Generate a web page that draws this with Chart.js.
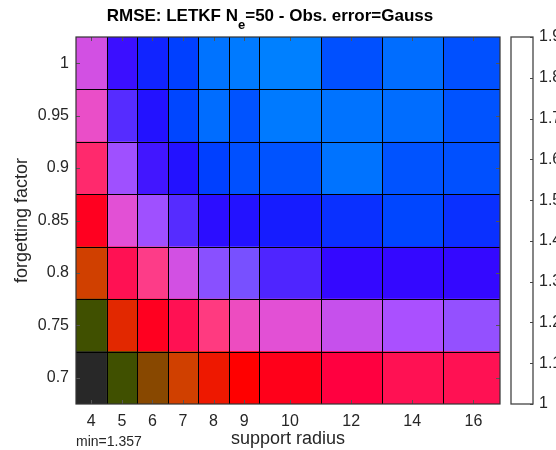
<!DOCTYPE html>
<html><head><meta charset="utf-8">
<script src="https://cdn.jsdelivr.net/npm/chart.js@4/dist/chart.umd.min.js"></script>
<style>html,body{margin:0;padding:0;background:#fff;overflow:hidden}#wrap{width:556px;height:450px}</style>
</head><body><div id="wrap"><canvas id="c" width="556" height="450"></canvas></div>
<script>
// ---- data ----
const radius = [4, 5, 6, 7, 8, 9, 10, 12, 14, 16];
const forgetting = ['1', '0.95', '0.9', '0.85', '0.8', '0.75', '0.7'];
// RMSE values, rows top (1) to bottom (0.7), columns follow radius
const rmse1    = [1.693, 1.793, 1.849, 1.877, 1.941, 1.949, 1.957, 1.897, 1.933, 1.897];
const rmse095  = [1.673, 1.777, 1.821, 1.885, 1.933, 1.901, 1.949, 1.941, 1.933, 1.901];
const rmse09   = [1.625, 1.729, 1.789, 1.821, 1.877, 1.897, 1.901, 1.941, 1.901, 1.897];
const rmse085  = [1.577, 1.681, 1.729, 1.777, 1.809, 1.821, 1.841, 1.861, 1.885, 1.861];
const rmse08   = [1.477, 1.609, 1.641, 1.693, 1.745, 1.757, 1.781, 1.797, 1.797, 1.797];
const rmse075  = [1.397, 1.501, 1.577, 1.609, 1.637, 1.669, 1.681, 1.701, 1.721, 1.737];
const rmse07   = [1.357, 1.397, 1.437, 1.477, 1.517, 1.557, 1.573, 1.597, 1.609, 1.609];
const rmseRows = [rmse1, rmse095, rmse09, rmse085, rmse08, rmse075, rmse07];
const colorbarTicks = [1, 1.1, 1.2, 1.3, 1.4, 1.5, 1.6, 1.7, 1.8, 1.9];
const minText = 'min=1.357';
const cmapColors = ['#282828','#405000','#884800','#d04000','#ee1800','#ff0000','#ff0040','#ff3a80',
                    '#e850d0','#b050ff','#7850ff','#3408ff','#1818ff','#0040ff','#0060ff','#0080ff'];
const cmapMin = 1.357, cmapMax = 1.957;

// ---- helpers ----
function hex(c){return [parseInt(c.slice(1,3),16),parseInt(c.slice(3,5),16),parseInt(c.slice(5,7),16)];}
const cmapRGB = cmapColors.map(hex);
function colorFor(v){
  let t = (v - cmapMin) / (cmapMax - cmapMin) * (cmapRGB.length - 1);
  t = Math.max(0, Math.min(cmapRGB.length - 1, t));
  const i = Math.min(Math.floor(t), cmapRGB.length - 2), f = t - i;
  const a = cmapRGB[i], b = cmapRGB[i+1];
  return 'rgb(' + a.map((x,k)=>Math.round(x + (b[k]-x)*f)).join(',') + ')';
}
// cell edges along radius axis
const widths = radius.map((r,i)=> i < radius.length-1 ? radius[i+1]-r : r - radius[i-1]);
const edges = [radius[0] - 0.5];
widths.forEach(w => edges.push(edges[edges.length-1] + w));
const centers = radius.map((r,i)=> (edges[i] + edges[i+1]) / 2);

const datasets = radius.map((r, ci) => ({
  data: forgetting.map((f, ri) => ({y: f, x: [edges[ci], edges[ci+1]]})),
  backgroundColor: ctx => colorFor(rmseRows[ctx.dataIndex][ci]),
  borderWidth: 0,
  borderSkipped: false,
  grouped: false,
  categoryPercentage: 1,
  barPercentage: 1
}));

const FONT = "'Liberation Sans', Arial, sans-serif";
const TXT = '#262626';

const decor = {
  id: 'decor',
  afterDatasetsDraw(chart) {
    const {ctx, chartArea: a, scales} = chart;
    ctx.save();
    // cell boundaries
    ctx.strokeStyle = '#000'; ctx.lineWidth = 1;
    ctx.beginPath();
    edges.slice(1, -1).forEach(e => {
      const px = Math.round(scales.x.getPixelForValue(e)) + 0.5;
      ctx.moveTo(px, a.top); ctx.lineTo(px, a.bottom);
    });
    for (let i = 0; i < forgetting.length - 1; i++) {
      const py = Math.round((scales.y.getPixelForTick(i) + scales.y.getPixelForTick(i+1)) / 2) + 0.5;
      ctx.moveTo(a.left, py); ctx.lineTo(a.right, py);
    }
    ctx.stroke();
    // inward ticks
    ctx.strokeStyle = '#555'; ctx.lineWidth = 1;
    ctx.beginPath();
    scales.x.ticks.forEach((t, i) => {
      const px = Math.round(scales.x.getPixelForTick(i)) + 0.5;
      ctx.moveTo(px, a.bottom); ctx.lineTo(px, a.bottom - 4);
      ctx.moveTo(px, a.top); ctx.lineTo(px, a.top + 4);
    });
    scales.y.ticks.forEach((t, i) => {
      const py = Math.round(scales.y.getPixelForTick(i)) + 0.5;
      ctx.moveTo(a.left, py); ctx.lineTo(a.left + 4, py);
      ctx.moveTo(a.right, py); ctx.lineTo(a.right - 4, py);
    });
    ctx.stroke();
    // axes box
    ctx.strokeStyle = '#333'; ctx.lineWidth = 1.2;
    ctx.strokeRect(a.left, a.top, a.right - a.left, a.bottom - a.top);
    // colorbar box
    const s2 = scales.y2;
    const top = s2.getPixelForValue(colorbarTicks[colorbarTicks.length-1]);
    const bot = s2.getPixelForValue(colorbarTicks[0]);
    const bx0 = a.right + 11, bx1 = a.right + 33;
    ctx.fillStyle = '#fff';
    ctx.fillRect(bx0, top, bx1 - bx0, bot - top);
    ctx.strokeStyle = '#444'; ctx.lineWidth = 1.3;
    ctx.strokeRect(bx0, top, bx1 - bx0, bot - top);
    ctx.lineWidth = 1;
    ctx.beginPath();
    colorbarTicks.forEach(v => {
      const py = Math.round(s2.getPixelForValue(v)) + 0.5;
      ctx.moveTo(bx1, py); ctx.lineTo(bx1 - 3, py);
    });
    ctx.stroke();
    // title with subscript
    const p1 = 'RMSE: LETKF N', sub = 'e', p2 = '=50 - Obs. error=Gauss';
    const fMain = "bold 17px " + FONT, fSub = "bold 13px " + FONT;
    ctx.font = fMain; const w1 = ctx.measureText(p1).width, w3 = ctx.measureText(p2).width;
    ctx.font = fSub; const w2 = ctx.measureText(sub).width;
    let x = 270 - (w1 + w2 + w3) / 2;
    ctx.fillStyle = '#000'; ctx.textBaseline = 'alphabetic'; ctx.textAlign = 'left';
    ctx.font = fMain; ctx.fillText(p1, x, 21); x += w1;
    ctx.font = fSub; ctx.fillText(sub, x, 29); x += w2;
    ctx.font = fMain; ctx.fillText(p2, x, 21);
    // min text
    ctx.font = "14px " + FONT; ctx.fillStyle = TXT; ctx.textBaseline = 'middle';
    ctx.fillText(minText, a.left, 442);
    ctx.restore();
  }
};

new Chart(document.getElementById('c'), {
  type: 'bar',
  data: {labels: forgetting, datasets},
  plugins: [decor],
  options: {
    indexAxis: 'y',
    responsive: false,
    devicePixelRatio: 1,
    animation: false,
    layout: {padding: {top: 37, left: 0, right: 0, bottom: 0}},
    plugins: {legend: {display: false}, tooltip: {enabled: false}, title: {display: false}},
    scales: {
      x: {
        type: 'linear', position: 'bottom', min: edges[0], max: 17.37,
        afterBuildTicks: s => { s.ticks = centers.map(v => ({value: v})); },
        afterFit: s => { s.height = 46; },
        grid: {display: false, drawTicks: false},
        border: {display: false},
        ticks: {callback: (v, i) => String(radius[i]), font: {family: FONT, size: 16}, color: TXT, padding: 8, maxRotation: 0, autoSkip: false},
        title: {display: true, text: 'support radius', font: {family: FONT, size: 18, lineHeight: 1.2}, color: TXT, padding: {top: 0, bottom: 0}}
      },
      y: {
        type: 'category', position: 'left', offset: true,
        afterFit: s => { s.width = 76; },
        grid: {display: false, drawTicks: false},
        border: {display: false},
        ticks: {font: {family: FONT, size: 16}, color: TXT, padding: 7},
        title: {display: true, text: 'forgetting factor', font: {family: FONT, size: 18, lineHeight: 1.2}, color: TXT, padding: {top: 11, bottom: 0}}
      },
      y2: {
        type: 'linear', position: 'right', offset: false,
        min: colorbarTicks[0], max: colorbarTicks[colorbarTicks.length-1],
        afterBuildTicks: s => { s.ticks = colorbarTicks.map(v => ({value: v})); },
        afterFit: s => { s.width = 56; },
        grid: {display: true, offset: false, drawOnChartArea: false, drawTicks: true, tickLength: 36, color: 'rgba(0,0,0,0)'},
        border: {display: false},
        ticks: {callback: v => String(+v.toFixed(1)), font: {family: FONT, size: 16}, color: TXT, padding: 3, autoSkip: false}
      }
    }
  }
});
</script>
</body></html>
